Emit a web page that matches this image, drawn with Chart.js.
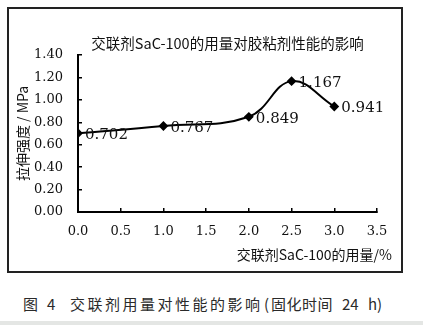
<!DOCTYPE html>
<html>
<head>
<meta charset="utf-8">
<script src="https://cdn.jsdelivr.net/npm/chart.js@4/dist/chart.umd.min.js"></script>
<style>
    body { margin: 0; background: #fff; width: 423px; height: 325px; position: relative; overflow: hidden; }
    #chart { position: absolute; left: 0; top: 0; }
    #frame { position: absolute; left: 7px; top: 7px; width: 392px; height: 262px; border: 2px solid #222; pointer-events: none; }
    #caption span {
        position: absolute; top: 295px; white-space: nowrap; line-height: 18px;
        font-family: "Noto Sans CJK SC"; font-size: 15px; color: #2a2a2a;
    }
    #bottom-line { position: absolute; left: 0; top: 321px; width: 423px; height: 4px; background: #e4e6e4; }
</style>
</head>
<body>
<canvas id="chart" width="423" height="280"></canvas>
<div id="frame"></div>
<div id="caption">
    <span style="left:23px">图</span>
    <span style="left:47px">4</span>
    <span style="left:70px; letter-spacing:2.5px">交联剂用量对性能的影响</span>
    <span style="left:264px">(</span>
    <span style="left:271px; letter-spacing:0.5px">固化时间</span>
    <span style="left:342px">24</span>
    <span style="left:368px">h)</span>
</div>
<div id="bottom-line"></div>
<script>
// Crosslinker dosage (%) and tensile strength (MPa)
const dosage = [0, 1, 2, 2.5, 3];
const strength = [0.702, 0.767, 0.849, 1.167, 0.941];

const chartTitle = '交联剂SaC-100的用量对胶粘剂性能的影响';
const xTitle = '交联剂SaC-100的用量/%';
const yTitle = '拉伸强度 / MPa';

const serif = 'DejaVu Serif';
const cjk = 'Noto Sans CJK SC';

// Writes the value next to each point
const valueLabels = {
    id: 'valueLabels',
    afterDatasetsDraw(chart) {
        const ctx = chart.ctx;
        const meta = chart.getDatasetMeta(0);
        ctx.save();
        ctx.font = `15px "${serif}"`;
        ctx.fillStyle = '#111';
        ctx.textAlign = 'left';
        ctx.textBaseline = 'middle';
        meta.data.forEach((pt, i) => {
            ctx.fillText(strength[i].toFixed(3), pt.x + 7, pt.y + 2);
        });
        ctx.restore();
    }
};

// Chart title above the plot and x axis title under the right end of the axis
const titles = {
    id: 'titles',
    afterDraw(chart) {
        const ctx = chart.ctx;
        const area = chart.chartArea;
        ctx.save();
        ctx.fillStyle = '#111';
        ctx.textBaseline = 'middle';

        ctx.font = `14.5px "${cjk}"`;
        ctx.textAlign = 'center';
        ctx.fillText(chartTitle, (area.left + area.right) / 2, 43);

        ctx.font = `14px "${cjk}"`;
        ctx.textAlign = 'right';
        ctx.fillText(xTitle, area.right + 15, 255);
        ctx.restore();
    }
};

const ctx = document.getElementById('chart').getContext('2d');
new Chart(ctx, {
    type: 'line',
    data: {
        datasets: [{
            data: dosage.map((x, i) => ({ x: x, y: strength[i] })),
            borderColor: '#000',
            backgroundColor: '#000',
            borderWidth: 2,
            tension: 0.4,
            pointStyle: 'rectRot',
            pointRadius: 3.5,
            fill: false,
        }],
    },
    options: {
        responsive: false,
        animation: false,
        layout: { padding: { left: 0, right: 46, top: 55, bottom: 0 } },
        plugins: {
            legend: { display: false },
            tooltip: { enabled: false },
        },
        scales: {
            x: {
                type: 'linear',
                min: 0,
                max: 3.5,
                ticks: {
                    stepSize: 0.5,
                    color: '#111',
                    font: { family: serif, size: 13 },
                    padding: 16,
                    callback: v => v.toFixed(1),
                },
                grid: { drawOnChartArea: false, tickLength: -4, color: '#000', lineWidth: 1.5 },
                border: { color: '#000', width: 2 },
                afterFit: scale => { scale.height = 68; },
            },
            y: {
                min: 0,
                max: 1.4,
                ticks: {
                    stepSize: 0.2,
                    color: '#111',
                    font: { family: serif, size: 13 },
                    padding: 19,
                    callback: v => v.toFixed(2),
                },
                title: {
                    display: true,
                    text: yTitle,
                    color: '#111',
                    font: { family: cjk, size: 14, weight: 'normal' },
                    padding: { top: 14, bottom: 0 },
                },
                grid: { drawOnChartArea: false, tickLength: -4, color: '#000', lineWidth: 1.5 },
                border: { color: '#000', width: 2 },
                afterFit: scale => { scale.width = 78; },
            },
        },
    },
    plugins: [valueLabels, titles],
});
</script>
</body>
</html>
